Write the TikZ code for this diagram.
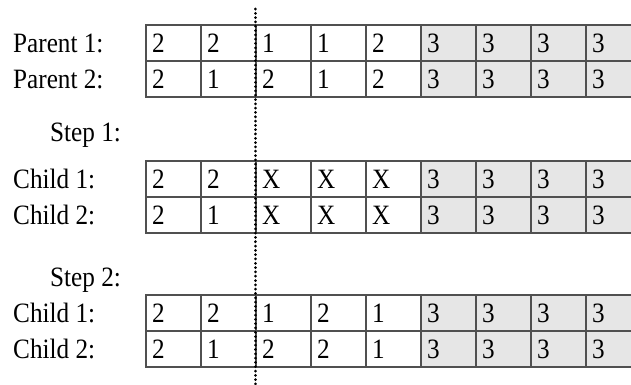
\documentclass[tikz,border=0pt]{standalone}
\usepackage{fontspec}
\setmainfont{Liberation Serif}[FakeStretch=0.9]
\definecolor{cellgray}{HTML}{E6E6E6}
\definecolor{edge}{HTML}{505050}
\begin{document}
\begin{tikzpicture}[x=1pt,y=-1pt,
  every node/.style={font=\fontsize{28}{32}\selectfont},
  cell/.style={draw=edge, line width=1.3pt, minimum width=55pt, minimum height=36pt,
    text width=43pt, inner xsep=6pt, inner ysep=0pt, align=left, anchor=north west, outer sep=0pt},
  lbl/.style={anchor=west, inner sep=0pt},
  cut/.style={draw=black, line width=3pt, line cap=round, dash pattern=on 0.01pt off 4.3pt}]
\useasboundingbox (0,0) rectangle (631,385);
\clip (0,0) rectangle (631,385);
\foreach \r/\y/\vals in {pa/25/{2,2,1,1,2,3,3,3,3}, pb/61/{2,1,2,1,2,3,3,3,3},
    sa/161/{2,2,X,X,X,3,3,3,3}, sb/197/{2,1,X,X,X,3,3,3,3},
    ta/295/{2,2,1,2,1,3,3,3,3}, tb/331/{2,1,2,2,1,3,3,3,3}}{
  \foreach \v [count=\i] in \vals {
    \ifnum\i>5 \def\cf{cellgray}\else\def\cf{white}\fi
    \node[cell, fill=\cf] (\r\i) at ({146+55*(\i-1)},\y) {\v};
  }
}
\node[lbl] (l1) at (13,43) {Parent 1:};
\node[lbl] (l2) at (13,79) {Parent 2:};
\node[lbl] (s1) at (50,135) {Step 1:};
\node[lbl] (l3) at (13,179) {Child 1:};
\node[lbl] (l4) at (13,215) {Child 2:};
\node[lbl] (s2) at (50,280) {Step 2:};
\node[lbl] (l5) at (13,313) {Child 1:};
\node[lbl] (l6) at (13,349) {Child 2:};
\coordinate (cuttop) at (255,9);
\coordinate (cutbot) at (255,386);
\draw[cut] (cuttop) -- (cutbot);
\end{tikzpicture}
\end{document}
